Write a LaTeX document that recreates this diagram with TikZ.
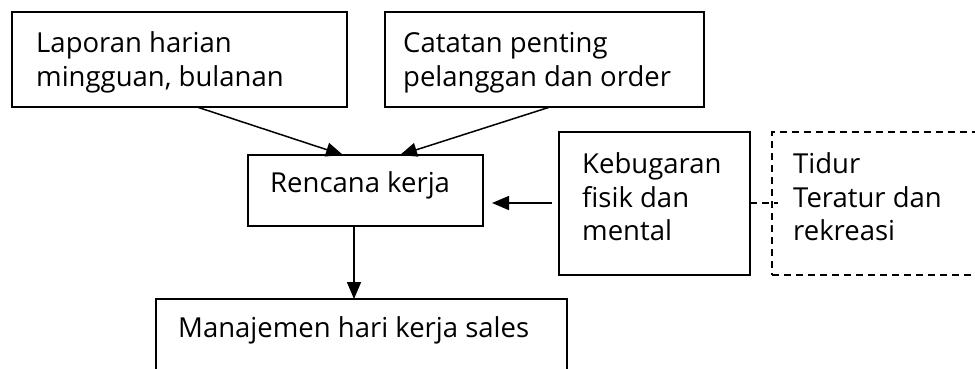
\documentclass[tikz,border=0pt]{standalone}
\usepackage{fontspec}
\setmainfont{Open Sans}
\usetikzlibrary{arrows.meta}
\tikzset{
  box/.style={draw, line width=1.5pt, inner sep=0pt, outer sep=0pt, anchor=north west},
  dbox/.style={box, dashed, dash pattern=on 7pt off 5pt},
  txt/.style={inner sep=0pt, anchor=base west, font=\fontsize{27.5}{33}\selectfont},
  arr/.style={line width=1.5pt, -{Triangle[length=17pt,width=14pt]}},
}
\begin{document}
\begin{tikzpicture}[x=1pt,y=-1pt]
\useasboundingbox (0,0) rectangle (975,368);
% boxes
\node[box, minimum width=335pt, minimum height=95pt] (lap) at (12,12) {};
\node[box, minimum width=319pt, minimum height=95pt] (cat) at (385,12) {};
\node[box, minimum width=235pt, minimum height=71pt] (ren) at (248,155) {};
\node[box, minimum width=191pt, minimum height=143pt] (keb) at (559,132) {};
\node[dbox, minimum width=230pt, minimum height=143pt] (tid) at (772,132) {};
\node[box, minimum width=411pt, minimum height=100pt] (man) at (156,299) {};
% texts
\node[txt] (lap1) at (36,52) {Laporan harian};
\node[txt] (lap2) at (36,86) {mingguan, bulanan};
\node[txt] (cat1) at (403,52) {Catatan penting};
\node[txt] (cat2) at (403,86) {pelanggan dan order};
\node[txt] (ren1) at (270,192) {Rencana kerja};
\node[txt] (keb1) at (582,173) {Kebugaran};
\node[txt] (keb2) at (582,207) {fisik dan};
\node[txt] (keb3) at (582,240) {mental};
\node[txt] (tid1) at (793,173) {Tidur};
\node[txt] (tid2) at (793,207) {Teratur dan};
\node[txt] (tid3) at (793,240) {rekreasi};
\node[txt] (man1) at (178,337) {Manajemen hari kerja sales};
% connector endpoints
\coordinate (lapS) at (197,107);
\coordinate (renA) at (343,155);
\coordinate (catS) at (550,107);
\coordinate (renB) at (400,155);
\coordinate (kebW) at (552,203);
\coordinate (renE) at (492,203);
\coordinate (renS) at (354,226);
\coordinate (manN) at (354,299);
\coordinate (kebE) at (750,203);
\coordinate (tidW) at (778,203);
% connectors
\draw[arr] (lapS) -- (renA);
\draw[arr] (catS) -- (renB);
\draw[arr] (kebW) -- (renE);
\draw[arr] (renS) -- (manN);
\draw[line width=1.5pt, dash pattern=on 7pt off 5pt] (kebE) -- (tidW);
\end{tikzpicture}
\end{document}
